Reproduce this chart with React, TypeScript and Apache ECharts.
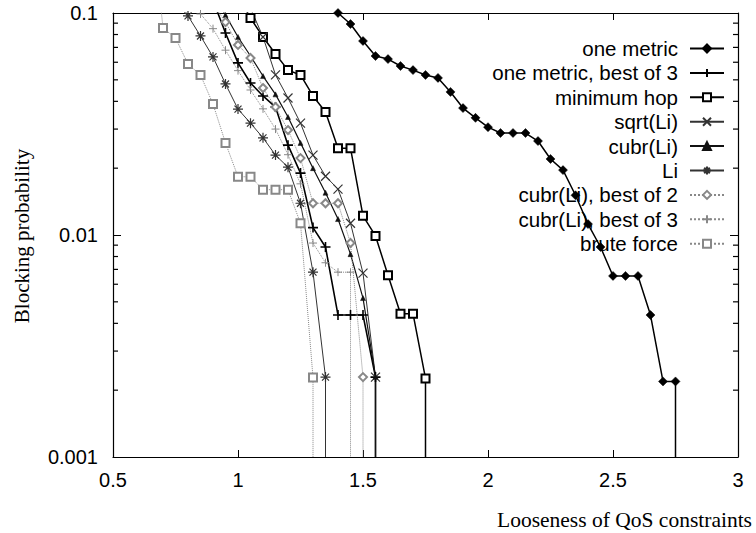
import React, { useEffect, useRef } from "react";
import * as echarts from "echarts";

// ---- data (x: looseness, y: blocking probability) ----
const xTicks = [0.5, 1, 1.5, 2, 2.5, 3];
const yTicks = [0.001, 0.01, 0.1];
const yMinorTicks = [0.002, 0.003, 0.004, 0.005, 0.006, 0.007, 0.008, 0.009, 0.02, 0.03, 0.04, 0.05, 0.06, 0.07, 0.08, 0.09];

const oneMetric: number[][] = [
  [1.35, 0.13], [1.4, 0.1], [1.45, 0.0892], [1.5, 0.0748], [1.55, 0.064], [1.6, 0.062], [1.65, 0.0577],
  [1.7, 0.0553], [1.75, 0.0526], [1.8, 0.051], [1.85, 0.0441], [1.9, 0.0373], [1.95, 0.0337], [2.0, 0.0306],
  [2.05, 0.0288], [2.1, 0.0288], [2.15, 0.0288], [2.2, 0.0265], [2.25, 0.022], [2.3, 0.0196], [2.35, 0.0151],
  [2.4, 0.0112], [2.45, 0.00883], [2.5, 0.00654], [2.55, 0.00654], [2.6, 0.00654], [2.65, 0.00436],
  [2.7, 0.00219], [2.75, 0.00219],
];
const oneMetricBest3: number[][] = [
  [0.9, 0.114], [0.95, 0.0813], [1.0, 0.0596], [1.05, 0.0484], [1.1, 0.0423], [1.15, 0.0377], [1.2, 0.0254],
  [1.25, 0.019], [1.3, 0.0108], [1.35, 0.00883], [1.4, 0.00436], [1.45, 0.00436], [1.5, 0.00436], [1.55, 0.00229],
];
const minimumHop: number[][] = [
  [1.0, 0.12], [1.05, 0.0949], [1.1, 0.078], [1.15, 0.0654], [1.2, 0.0553], [1.25, 0.0526], [1.3, 0.0423],
  [1.35, 0.0358], [1.4, 0.0246], [1.45, 0.0246], [1.5, 0.0122], [1.55, 0.0099], [1.6, 0.00659], [1.65, 0.00442],
  [1.7, 0.00442], [1.75, 0.00226],
];
const sqrtLi: number[][] = [
  [1.05, 0.105], [1.1, 0.078], [1.15, 0.0526], [1.2, 0.0414], [1.25, 0.0319], [1.3, 0.0229], [1.35, 0.0184],
  [1.4, 0.0161], [1.45, 0.0113], [1.5, 0.00673], [1.55, 0.00229],
];
const cubrLi: number[][] = [
  [0.9, 0.12], [0.95, 0.098], [1.0, 0.078], [1.05, 0.064], [1.1, 0.052], [1.15, 0.043], [1.2, 0.034],
  [1.25, 0.026], [1.3, 0.02], [1.35, 0.0155], [1.4, 0.0118], [1.45, 0.0082], [1.5, 0.0052], [1.55, 0.0023],
];
const li: number[][] = [
  [0.75, 0.125], [0.8, 0.097], [0.85, 0.0788], [0.9, 0.0634], [0.95, 0.0479], [1.0, 0.0369], [1.05, 0.0319],
  [1.1, 0.0274], [1.15, 0.0229], [1.2, 0.0202], [1.25, 0.0139], [1.3, 0.0068], [1.35, 0.00229],
];
const cubrLiBest2: number[][] = [
  [0.9, 0.11], [0.95, 0.091], [1.0, 0.0718], [1.05, 0.0627], [1.1, 0.0459], [1.15, 0.0377], [1.2, 0.0297],
  [1.25, 0.0222], [1.3, 0.0139], [1.35, 0.0139], [1.4, 0.0139], [1.45, 0.0092], [1.5, 0.00229],
];
const cubrLiBest3: number[][] = [
  [0.8, 0.14], [0.85, 0.099], [0.9, 0.085], [0.95, 0.068], [1.0, 0.055], [1.05, 0.045], [1.1, 0.037],
  [1.15, 0.03], [1.2, 0.023], [1.25, 0.017], [1.3, 0.0092], [1.35, 0.0075], [1.4, 0.0068], [1.45, 0.0068],
];
const bruteForce: number[][] = [
  [0.65, 0.3], [0.7, 0.0856], [0.75, 0.0772], [0.8, 0.0589], [0.85, 0.0526], [0.9, 0.0389], [0.95, 0.026],
  [1.0, 0.0183], [1.05, 0.0183], [1.1, 0.016], [1.15, 0.016], [1.2, 0.016], [1.25, 0.0113], [1.3, 0.00228],
];

const Y_MIN = 0.001;
const Y_MAX = 0.1;

const PLUS = "path://M5,0L5,10M0,5L10,5";
const CROSS = "path://M0,0L10,10M10,0L0,10";
const STAR = "path://M5,0L5,10M0,5L10,5M1.5,1.5L8.5,8.5M8.5,1.5L1.5,8.5";

type Def = {
  name: string;
  points: number[][];
  symbol: string;
  size: number;
  color: string;
  width: number;
  dash: "solid" | "dotted" | "dashed";
  border: number;
};

const defs: Def[] = [
  { name: "one metric", points: oneMetric, symbol: "diamond", size: 9, color: "#000", width: 1.5, dash: "solid", border: 0.5 },
  { name: "one metric, best of 3", points: oneMetricBest3, symbol: PLUS, size: 10, color: "#000", width: 1.6, dash: "solid", border: 1.6 },
  { name: "minimum hop", points: minimumHop, symbol: "emptyRect", size: 8, color: "#000", width: 1.5, dash: "solid", border: 1.5 },
  { name: "sqrt(Li)", points: sqrtLi, symbol: CROSS, size: 9, color: "#333", width: 1, dash: "solid", border: 1.2 },
  { name: "cubr(Li)", points: cubrLi, symbol: "triangle", size: 5, color: "#111", width: 1.2, dash: "solid", border: 0.5 },
  { name: "Li", points: li, symbol: STAR, size: 10, color: "#333", width: 1, dash: "solid", border: 1.2 },
  { name: "cubr(Li), best of 2", points: cubrLiBest2, symbol: "emptyDiamond", size: 8, color: "#888", width: 1, dash: "dotted", border: 1 },
  { name: "cubr(Li), best of 3", points: cubrLiBest3, symbol: PLUS, size: 8, color: "#888", width: 1, dash: "dotted", border: 1 },
  { name: "brute force", points: bruteForce, symbol: "emptyRect", size: 8, color: "#888", width: 1, dash: "dotted", border: 1 },
];

function buildData(points: number[][]) {
  const items: any[] = points.map(([x, y]) =>
    y > Y_MAX ? { value: [x, y], symbol: "none" } : { value: [x, y] }
  );
  const last = points[points.length - 1];
  items.push({ value: [last[0], Y_MIN], symbol: "none" });
  return items;
}

export default function App() {
  const ref = useRef<HTMLDivElement>(null);

  useEffect(() => {
    if (!ref.current) return;
    const chart = echarts.init(ref.current, undefined, { renderer: "svg" });

    const axisLineStyle = { color: "#000", width: 1.2 };
    const sans = "Liberation Sans";

    const lineSeries = defs.map((d) => ({
      name: d.name,
      type: "line",
      data: buildData(d.points),
      symbol: d.symbol,
      symbolSize: d.size,
      showAllSymbol: true,
      clip: true,
      z: 3,
      lineStyle: { color: d.color, width: d.width, type: d.dash },
      itemStyle: { color: d.color, borderColor: d.color, borderWidth: d.border },
      emphasis: { disabled: true },
    }));

    const minorSeries = {
      name: "minor",
      type: "custom",
      silent: true,
      clip: false,
      z: 6,
      data: yMinorTicks.map((v) => [xTicks[0], v]),
      encode: { x: 0, y: 1 },
      renderItem: (_p: any, api: any) => {
        const v = api.value(1);
        const l = api.coord([xTicks[0], v]);
        const r = api.coord([xTicks[xTicks.length - 1], v]);
        return {
          type: "group",
          children: [
            { type: "line", shape: { x1: l[0], y1: l[1], x2: l[0] + 5, y2: l[1] }, style: { stroke: "#000", lineWidth: 1.2 } },
            { type: "line", shape: { x1: r[0] - 5, y1: r[1], x2: r[0], y2: r[1] }, style: { stroke: "#000", lineWidth: 1.2 } },
          ],
        };
      },
    };

    const fmtY = (v: number) => {
      const found = yTicks.find((t) => Math.abs(t - v) / t < 1e-6);
      return found !== undefined ? String(found) : "";
    };

    chart.setOption({
      animation: false,
      backgroundColor: "#fff",
      grid: { left: 113, right: 18, top: 13, bottom: 76, containLabel: false },
      xAxis: [
        {
          type: "value",
          min: xTicks[0],
          max: xTicks[xTicks.length - 1],
          interval: 0.5,
          axisLine: { show: true, lineStyle: axisLineStyle },
          axisTick: { show: true, inside: true, length: 7, lineStyle: { color: "#000" } },
          axisLabel: { color: "#000", fontFamily: sans, fontSize: 20, margin: 13, formatter: (v: number) => String(v) },
          splitLine: { show: false },
        },
        {
          type: "value",
          position: "top",
          min: xTicks[0],
          max: xTicks[xTicks.length - 1],
          interval: 0.5,
          axisLine: { show: true, lineStyle: axisLineStyle },
          axisTick: { show: true, inside: true, length: 7, lineStyle: { color: "#000" } },
          axisLabel: { show: false },
          splitLine: { show: false },
        },
      ],
      yAxis: [
        {
          type: "log",
          logBase: 10,
          min: Y_MIN,
          max: Y_MAX,
          axisLine: { show: true, lineStyle: axisLineStyle },
          axisTick: { show: true, inside: true, length: 8, lineStyle: { color: "#000" } },
          axisLabel: { color: "#000", fontFamily: sans, fontSize: 20, margin: 15, formatter: fmtY },
          splitLine: { show: false },
        },
        {
          type: "log",
          logBase: 10,
          position: "right",
          min: Y_MIN,
          max: Y_MAX,
          axisLine: { show: true, lineStyle: axisLineStyle },
          axisTick: { show: true, inside: true, length: 8, lineStyle: { color: "#000" } },
          axisLabel: { show: false },
          splitLine: { show: false },
        },
      ],
      legend: {
        data: defs.map((d) => d.name),
        orient: "vertical",
        right: 31,
        top: 38,
        align: "right",
        itemWidth: 34,
        itemHeight: 10,
        itemGap: 3.4,
        padding: 0,
        selectedMode: false,
        textStyle: { color: "#000", fontFamily: sans, fontSize: 20.5, padding: [0, 7, 0, 0] },
      },
      graphic: [
        {
          type: "text",
          x: 22,
          y: 236,
          rotation: Math.PI / 2,
          style: {
            text: "Blocking probability",
            font: '21px "Liberation Serif"',
            fill: "#000",
            textAlign: "center",
            textVerticalAlign: "middle",
            align: "center",
            verticalAlign: "middle",
          },
        },
        {
          type: "text",
          x: 752,
          y: 520,
          style: {
            text: "Looseness of QoS constraints",
            font: '21.5px "Liberation Serif"',
            fill: "#000",
            textAlign: "right",
            textVerticalAlign: "middle",
            align: "right",
            verticalAlign: "middle",
          },
        },
      ],
      series: [...lineSeries, minorSeries],
    });

    return () => chart.dispose();
  }, []);

  return <div ref={ref} style={{ position: "fixed", left: 0, top: 0, width: 756, height: 533 }} />;
}
